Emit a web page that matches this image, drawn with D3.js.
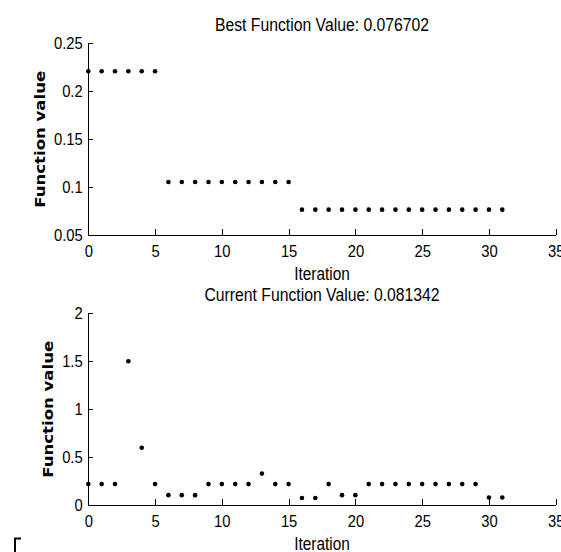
<!DOCTYPE html>
<html>
<head>
<meta charset="utf-8">
<script src="https://cdn.jsdelivr.net/npm/d3@7"></script>
<style>
  body { margin: 0; background: #fff; }
  .narrow { font-family: "Liberation Sans", Arial, sans-serif; fill: #000; }
  .tick text { font-family: "Liberation Sans", Arial, sans-serif; font-size: 17px; fill: #000; }
  .tick line, .domain { stroke: #000; stroke-width: 1px; shape-rendering: crispEdges; }
</style>
</head>
<body>
<div id="chart"></div>
<script>
// data
var iterations = [0, 1, 2, 3, 4, 5, 6, 7, 8, 9, 10, 11, 12, 13, 14, 15,
  16, 17, 18, 19, 20, 21, 22, 23, 24, 25, 26, 27, 28, 29, 30, 31];

var bestValues = [0.2209, 0.2209, 0.2209, 0.2209, 0.2209, 0.2209,
  0.1055, 0.1055, 0.1055, 0.1055, 0.1055, 0.1055, 0.1055, 0.1055, 0.1055, 0.1055,
  0.0767, 0.0767, 0.0767, 0.0767, 0.0767, 0.0767, 0.0767, 0.0767,
  0.0767, 0.0767, 0.0767, 0.0767, 0.0767, 0.0767, 0.0767, 0.0767];

var currentValues = [0.2209, 0.2209, 0.2209, 1.5, 0.6, 0.2209, 0.1055, 0.1055,
  0.1055, 0.2209, 0.2209, 0.2209, 0.2209, 0.33, 0.2209, 0.2209,
  0.0767, 0.0767, 0.2209, 0.1055, 0.1055, 0.2209, 0.2209, 0.2209,
  0.2209, 0.2209, 0.2209, 0.2209, 0.2209, 0.2209, 0.0813, 0.0813];

var xTicks = [0, 5, 10, 15, 20, 25, 30, 35];
var bestTicks = [0.05, 0.1, 0.15, 0.2, 0.25];
var bestTickLabels = ["0.05", "0.1", "0.15", "0.2", "0.25"];
var currentTicks = [0, 0.5, 1, 1.5, 2];
var currentTickLabels = ["0", "0.5", "1", "1.5", "2"];

var svgWidth = 561;
var svgHeight = 552;

var svg = d3.select("#chart").append("svg")
  .attr("width", svgWidth)
  .attr("height", svgHeight);

svg.append("rect")
  .attr("width", svgWidth)
  .attr("height", svgHeight)
  .attr("fill", "#fff");

// squeeze texts sideways so they look like the narrow matlab font
function condense(sel, k) {
  sel.each(function() {
    var w = this.getComputedTextLength();
    d3.select(this)
      .attr("textLength", w * k)
      .attr("lengthAdjust", "spacingAndGlyphs");
  });
}

// shared x scale for both panels
var xScale = d3.scaleLinear()
  .domain([0, 35])
  .range([88.3, 555.7]);

function drawPanel(opts) {
  var yScale = d3.scaleLinear()
    .domain(opts.domain)
    .range([opts.bottom, opts.top]);

  var g = svg.append("g");

  // x axis, ticks pointing inward
  var bottomAxis = d3.axisBottom(xScale)
    .tickValues(xTicks)
    .tickSizeInner(-6.5)
    .tickSizeOuter(0)
    .tickPadding(10);

  var xAxis = g.append("g")
    .attr("transform", `translate(0, ${opts.bottom})`)
    .call(bottomAxis);
  condense(xAxis.selectAll("text"), 0.87);

  // y axis
  var leftAxis = d3.axisLeft(yScale)
    .tickValues(opts.ticks)
    .tickFormat((d, i) => opts.tickLabels[i])
    .tickSizeInner(-4.5)
    .tickSizeOuter(0)
    .tickPadding(5.6);

  var yAxis = g.append("g")
    .attr("transform", `translate(${xScale(0)}, 0)`)
    .call(leftAxis);
  condense(yAxis.selectAll("text"), 0.87);

  // markers
  g.selectAll("circle")
    .data(opts.values)
    .enter()
    .append("circle")
    .attr("cx", (d, i) => xScale(iterations[i]))
    .attr("cy", d => yScale(d))
    .attr("r", 2.3)
    .attr("fill", "#000");

  var midX = (xScale(0) + xScale(35)) / 2;

  // title
  var title = g.append("text")
    .classed("narrow", true)
    .attr("x", midX)
    .attr("y", opts.top - 12.5)
    .attr("text-anchor", "middle")
    .attr("font-size", "17.5px")
    .text(opts.title);
  condense(title, 0.9);

  // x label
  var xLabel = g.append("text")
    .classed("narrow", true)
    .attr("x", midX)
    .attr("y", opts.bottom + 45)
    .attr("text-anchor", "middle")
    .attr("font-size", "17.5px")
    .text("Iteration");
  condense(xLabel, 0.88);

  // y label
  g.append("text")
    .attr("transform", `translate(${opts.labelX}, ${(opts.top + opts.bottom) / 2}) rotate(-90)`)
    .attr("text-anchor", "middle")
    .attr("font-family", "DejaVu Sans, sans-serif")
    .attr("font-weight", "bold")
    .attr("font-size", "14px")
    .attr("textLength", 137)
    .attr("lengthAdjust", "spacingAndGlyphs")
    .attr("fill", "#000")
    .text("Function value");
}

drawPanel({
  domain: [0.05, 0.25],
  top: 43.3,
  bottom: 235.3,
  ticks: bestTicks,
  tickLabels: bestTickLabels,
  values: bestValues,
  title: "Best Function Value: 0.076702",
  labelX: 45
});

drawPanel({
  domain: [0, 2],
  top: 313.3,
  bottom: 505.3,
  ticks: currentTicks,
  tickLabels: currentTickLabels,
  values: currentValues,
  title: "Current Function Value: 0.081342",
  labelX: 53
});

// little corner mark bottom left
svg.append("path")
  .attr("d", "M15,552V538.5H21")
  .attr("fill", "none")
  .attr("stroke", "#000")
  .attr("stroke-width", 2);
</script>
</body>
</html>
